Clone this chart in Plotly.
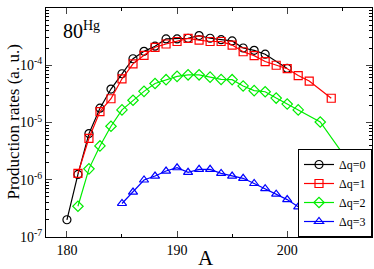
import plotly.graph_objects as go

A0 = [180, 181, 182, 183, 184, 185, 186, 187, 188, 189, 190, 191, 192, 193, 194, 195, 196, 197, 198, 200]
Y0 = [2.0e-7, 1.24e-6, 6.4e-6, 1.78e-5, 3.84e-5, 7.1e-5, 1.30e-4, 1.75e-4, 2.15e-4, 2.88e-4, 2.88e-4, 2.96e-4,
      3.3e-4, 2.96e-4, 2.8e-4, 2.66e-4, 2.0e-4, 1.82e-4, 1.56e-4, 8.8e-5]

A1 = [181, 182, 183, 184, 185, 186, 187, 188, 189, 190, 191, 192, 193, 194, 195, 196, 197, 198, 199, 200, 201, 202, 204]
Y1 = [1.29e-6, 5.3e-6, 1.55e-5, 2.6e-5, 5.8e-5, 1.06e-4, 1.49e-4, 2.06e-4, 2.35e-4, 2.6e-4, 2.95e-4, 2.75e-4,
      2.6e-4, 2.6e-4, 2.25e-4, 1.72e-4, 1.47e-4, 1.16e-4, 1.0e-4, 8.7e-5, 6.6e-5, 5.3e-5, 2.65e-5]

A2 = [181, 182, 183, 184, 185, 186, 187, 188, 189, 190, 191, 192, 193, 194, 195, 196, 197, 198, 199, 200, 201, 203, 206]
Y2 = [3.45e-7, 1.55e-6, 3.9e-6, 8.6e-6, 1.66e-5, 2.45e-5, 3.5e-5, 4.8e-5, 5.6e-5, 6.4e-5, 6.8e-5, 6.8e-5,
      6.2e-5, 5.65e-5, 5.6e-5, 4.35e-5, 3.6e-5, 3.45e-5, 2.67e-5, 2.1e-5, 1.66e-5, 1.02e-5, 1.58e-6]

A3 = [185, 186, 187, 188, 189, 190, 191, 192, 193, 194, 195, 196, 197, 198, 199, 200, 201]
Y3 = [3.85e-7, 6.1e-7, 9.9e-7, 1.16e-6, 1.42e-6, 1.62e-6, 1.35e-6, 1.52e-6, 1.52e-6, 1.29e-6, 1.16e-6,
      1.06e-6, 8.6e-7, 7.0e-7, 5.6e-7, 4.5e-7, 3.36e-7]

NAMES = ["Δq=0", "Δq=1", "Δq=2", "Δq=3"]
COLORS = ["#000000", "#ff0000", "#00ee00", "#0000ff"]
SYMBOLS = ["circle-open", "square-open", "diamond-open", "triangle-up-open"]

X_TICKS = [180, 190, 200]
Y_TICKS = [1e-7, 1e-6, 1e-5, 1e-4, 1e-3]
Y_TICKTEXT = ["10<sup>-7</sup>", "10<sup>-6</sup>", "10<sup>-5</sup>", "10<sup>-4</sup>", "10<sup>-3</sup>"]

SERIF = "Liberation Serif, Times New Roman, serif"

fig = go.Figure()
for xs, ys, name, col, sym in zip([A0, A1, A2, A3], [Y0, Y1, Y2, Y3], NAMES, COLORS, SYMBOLS):
    fig.add_trace(go.Scatter(
        x=xs, y=ys, name=name, mode="lines+markers",
        line=dict(color=col, width=1.2),
        marker=dict(symbol=sym, size=8, color=col, line=dict(width=1.2, color=col)),
    ))

minor_y = [m * 10 ** e for e in range(-7, -3) for m in range(2, 10)]

fig.update_layout(
    width=374, height=269,
    margin=dict(l=46, r=2, t=8, b=32, autoexpand=False),
    paper_bgcolor="white", plot_bgcolor="white",
    font=dict(family=SERIF, size=14, color="black"),
    showlegend=True,
    legend=dict(
        x=1, y=0, xanchor="right", yanchor="bottom",
        bgcolor="white", bordercolor="black", borderwidth=1,
        font=dict(family=SERIF, size=12, color="black"),
        itemwidth=30, tracegroupgap=0,
        traceorder="normal",
    ),
    xaxis=dict(
        range=[178.1, 207.7], automargin=False,
        tickvals=X_TICKS, ticks="inside", ticklen=6, tickwidth=1,
        minor=dict(tickvals=[185, 195, 205], ticks="inside", ticklen=3, tickwidth=1, tickcolor="black"),
        showline=True, linecolor="black", linewidth=1, mirror="allticks",
        showgrid=False, zeroline=False,
        tickfont=dict(family=SERIF, size=14),
    ),
    yaxis=dict(
        type="log", range=[-7, -3], automargin=False,
        tickvals=Y_TICKS, ticktext=Y_TICKTEXT,
        ticks="inside", ticklen=6, tickwidth=1,
        minor=dict(tickvals=minor_y, ticks="inside", ticklen=3, tickwidth=1, tickcolor="black"),
        showline=True, linecolor="black", linewidth=1, mirror="allticks",
        showgrid=False, zeroline=False,
        tickfont=dict(family=SERIF, size=14),
    ),
    annotations=[
        dict(text="80<sup>Hg</sup>", xref="paper", yref="paper", x=0.045, y=0.965,
             xanchor="left", yanchor="top", showarrow=False,
             font=dict(family=SERIF, size=20, color="black")),
        dict(text="Production rates (a. u.)", xref="paper", yref="paper", x=0, y=0.5,
             xshift=-33, xanchor="center", yanchor="middle", textangle=-90, showarrow=False,
             font=dict(family=SERIF, size=17, color="black")),
        dict(text="A", xref="paper", yref="paper", x=0.49, y=0,
             yshift=-21, xanchor="center", yanchor="middle", showarrow=False,
             font=dict(family=SERIF, size=21, color="black")),
    ],
)

fig.write_html("out.html", config={"displayModeBar": False},
               post_script="document.body.style.margin='0';document.body.style.padding='0';")
